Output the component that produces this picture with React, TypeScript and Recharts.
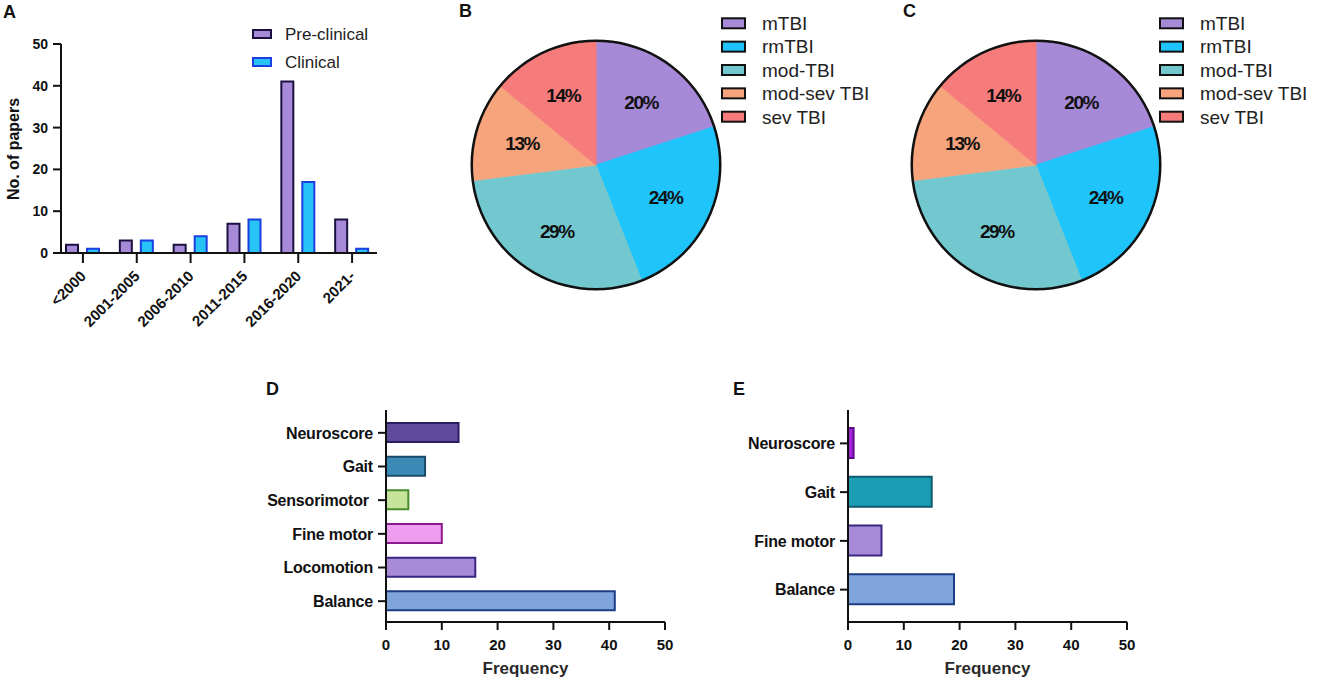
// Five-panel TBI literature summary: papers per period (A), injury severity
// share in two cohorts (B, C), and outcome-measure frequency (D, E).

import React from "react";
import { BarChart, Bar, XAxis, YAxis, Cell, PieChart, Pie } from "recharts";

// ---- Panel A: papers per period ----
const periods = ["<2000", "2001-2005", "2006-2010", "2011-2015", "2016-2020", "2021-"];
const preClinicalPapers = [2, 3, 2, 7, 41, 8];
const clinicalPapers = [1, 3, 4, 8, 17, 1];
const paperTicks = [0, 10, 20, 30, 40, 50];

// ---- Panels B and C: severity share (%) ----
const severityNames = ["mTBI", "rmTBI", "mod-TBI", "mod-sev TBI", "sev TBI"];
const severityShareB = [20, 24, 29, 13, 14];
const severityShareC = [20, 24, 29, 13, 14];
const severityColors = ["#a68ad7", "#1fc4fa", "#73c8cf", "#f7a47d", "#f67c7c"];

// ---- Panel D: outcome frequency ----
const outcomesD = ["Neuroscore", "Gait", "Sensorimotor\u00a0", "Fine motor", "Locomotion", "Balance"];
const frequencyD = [13, 7, 4, 10, 16, 41];
const fillsD = ["#5f4b9c", "#3a8bb6", "#c6e49c", "#ef9df0", "#a78bd9", "#7fa4dc"];
const edgesD = ["#2c1d62", "#1b4b6c", "#4a8c2c", "#8c1a8c", "#3a2682", "#1d3c84"];

// ---- Panel E: outcome frequency ----
const outcomesE = ["Neuroscore", "Gait", "Fine motor", "Balance"];
const frequencyE = [1, 15, 6, 19];
const fillsE = ["#a322d6", "#1b9db3", "#a78bd9", "#7fa4dc"];
const edgesE = ["#5e0a8a", "#0e5a70", "#3a2682", "#1d3c84"];

const frequencyTicks = [0, 10, 20, 30, 40, 50];

const FONT = "'Liberation Sans', Arial, Helvetica, sans-serif";
const INK = "#111111";
const PRE_FILL = "#a68ad7";
const PRE_EDGE = "#1c1040";
const CLIN_FILL = "#27c3f7";
const CLIN_EDGE = "#1b3fe0";

const axisLine = { stroke: INK, strokeWidth: 2 };
const boldTick = (size: number, spacing = 0) => ({
  fontSize: size,
  fontWeight: 700,
  fill: INK,
  letterSpacing: spacing,
});

const periodRows = periods.map((period, i) => ({
  period,
  pre: preClinicalPapers[i],
  clin: clinicalPapers[i],
}));
const pieB = severityNames.map((name, i) => ({ name, value: severityShareB[i] }));
const pieC = severityNames.map((name, i) => ({ name, value: severityShareC[i] }));
const rowsD = outcomesD.map((outcome, i) => ({ outcome, frequency: frequencyD[i] }));
const rowsE = outcomesE.map((outcome, i) => ({ outcome, frequency: frequencyE[i] }));
const outline = [{ value: 1 }];

// Rotated period labels under panel A, ending just past the tick.
function PeriodTick({ x, y, payload }: any) {
  return (
    <text
      transform={`translate(${x + 4},${y + 14}) rotate(-45)`}
      textAnchor="end"
      fontSize={15}
      fontWeight={700}
      fill={INK}
    >
      {payload.value}
    </text>
  );
}

const RAD = Math.PI / 180;
function SliceLabel(props: any) {
  const { cx, cy, midAngle, outerRadius, value } = props;
  const r = outerRadius * 0.62;
  const x = cx + r * Math.cos(-midAngle * RAD);
  const y = cy + r * Math.sin(-midAngle * RAD);
  return (
    <text
      x={x}
      y={y}
      textAnchor="middle"
      dominantBaseline="central"
      fontSize={19}
      fontWeight={700}
      letterSpacing={-1.4}
      fill={INK}
    >
      {value}%
    </text>
  );
}

function SeverityPie({ data }: { data: { name: string; value: number }[] }) {
  return (
    <PieChart width={300} height={300}>
      <Pie
        data={data}
        dataKey="value"
        nameKey="name"
        cx={161}
        cy={160}
        outerRadius={124}
        startAngle={90}
        endAngle={-270}
        label={SliceLabel}
        labelLine={false}
        isAnimationActive={false}
      >
        {data.map((d, i) => (
          <Cell key={d.name} fill={severityColors[i]} stroke={severityColors[i]} strokeWidth={1} />
        ))}
      </Pie>
      {/* thin dark ring round the whole pie */}
      <Pie
        data={outline}
        dataKey="value"
        cx={161}
        cy={160}
        innerRadius={123}
        outerRadius={125.5}
        startAngle={90}
        endAngle={-270}
        fill={INK}
        stroke="none"
        isAnimationActive={false}
      />
    </PieChart>
  );
}

function OutcomeBars({
  rows,
  fills,
  edges,
  width,
  axisWidth,
  barSize,
  pad,
}: {
  rows: { outcome: string; frequency: number }[];
  fills: string[];
  edges: string[];
  width: number;
  axisWidth: number;
  barSize: number;
  pad: { top: number; bottom: number };
}) {
  return (
    <BarChart
      layout="vertical"
      width={width}
      height={310}
      data={rows}
      margin={{ top: 30, right: 15, bottom: 0, left: 0 }}
    >
      <XAxis
        type="number"
        domain={[0, 50]}
        ticks={frequencyTicks}
        interval={0}
        height={68}
        tick={boldTick(15)}
        tickSize={8}
        tickMargin={9}
        axisLine={axisLine}
        tickLine={axisLine}
        label={{
          value: "Frequency",
          position: "insideBottom",
          offset: 16,
          fontSize: 17,
          fontWeight: 700,
          fill: "#2a2a2a",
        }}
      />
      <YAxis
        type="category"
        dataKey="outcome"
        width={axisWidth}
        padding={pad}
        interval={0}
        tick={boldTick(16, -0.2)}
        tickSize={8}
        tickMargin={5}
        axisLine={axisLine}
        tickLine={axisLine}
      />
      <Bar dataKey="frequency" barSize={barSize} strokeWidth={2} isAnimationActive={false}>
        {rows.map((r, i) => (
          <Cell key={r.outcome} fill={fills[i]} stroke={edges[i]} />
        ))}
      </Bar>
    </BarChart>
  );
}

function SwatchLegend({
  x,
  y,
  rowGap,
  w,
  h,
  gap,
  fontSize,
  items,
}: {
  x: number;
  y: number;
  rowGap: number;
  w: number;
  h: number;
  gap: number;
  fontSize: number;
  items: { label: string; fill: string; edge: string }[];
}) {
  return (
    <g>
      {items.map((it, i) => {
        const cy = y + i * rowGap;
        return (
          <g key={it.label}>
            <rect x={x + 1} y={cy - h / 2 + 1} width={w - 2} height={h - 2} fill={it.fill} stroke={it.edge} strokeWidth={2} />
            <text x={x + w + gap} y={cy + fontSize * 0.36} fontSize={fontSize} fill="#222">
              {it.label}
            </text>
          </g>
        );
      })}
    </g>
  );
}

const severityItems = severityNames.map((label, i) => ({ label, fill: severityColors[i], edge: INK }));

export default function App() {
  return (
    <div
      style={{
        position: "absolute",
        left: 0,
        top: 0,
        width: 1325,
        height: 695,
        background: "#fff",
        fontFamily: FONT,
        overflow: "hidden",
      }}
    >
      {/* A */}
      <div style={{ position: "absolute", left: 0, top: 0 }}>
        <BarChart
          width={395}
          height={340}
          data={periodRows}
          margin={{ top: 44, right: 18, bottom: 0, left: 0 }}
          barGap={9}
        >
          <XAxis
            dataKey="period"
            height={87}
            interval={0}
            padding={{ left: -5, right: -2 }}
            tick={<PeriodTick />}
            tickSize={10}
            tickMargin={0}
            axisLine={axisLine}
            tickLine={axisLine}
          />
          <YAxis
            width={61}
            domain={[0, 50]}
            ticks={paperTicks}
            interval={0}
            tick={boldTick(14)}
            tickSize={8}
            tickMargin={5}
            axisLine={axisLine}
            tickLine={axisLine}
          />
          <Bar dataKey="pre" barSize={12} fill={PRE_FILL} stroke={PRE_EDGE} strokeWidth={2} isAnimationActive={false} />
          <Bar dataKey="clin" barSize={12} fill={CLIN_FILL} stroke={CLIN_EDGE} strokeWidth={2} isAnimationActive={false} />
        </BarChart>
      </div>

      {/* B, C */}
      <div style={{ position: "absolute", left: 430, top: 0 }}>
        <SeverityPie data={pieB} />
      </div>
      <div style={{ position: "absolute", left: 870, top: 0 }}>
        <SeverityPie data={pieC} />
      </div>

      {/* D, E */}
      <div style={{ position: "absolute", left: 250, top: 380 }}>
        <OutcomeBars rows={rowsD} fills={fillsD} edges={edgesD} width={430} axisWidth={136} barSize={19} pad={{ top: 6, bottom: 4 }} />
      </div>
      <div style={{ position: "absolute", left: 740, top: 380 }}>
        <OutcomeBars rows={rowsE} fills={fillsE} edges={edgesE} width={402} axisWidth={108} barSize={30} pad={{ top: 9, bottom: 8 }} />
      </div>

      {/* panel letters, axis title and legends */}
      <svg width={1325} height={695} style={{ position: "absolute", left: 0, top: 0, pointerEvents: "none" }}>
        <g fontSize={18} fontWeight={700} fill={INK}>
          <text x={3} y={18}>A</text>
          <text x={459} y={17}>B</text>
          <text x={903} y={17}>C</text>
          <text x={266} y={395}>D</text>
          <text x={733} y={395}>E</text>
        </g>
        <text
          transform="translate(18.5,149) rotate(-90)"
          textAnchor="middle"
          fontSize={16}
          fontWeight={700}
          fill={INK}
        >
          No. of papers
        </text>
        <SwatchLegend
          x={252}
          y={34}
          rowGap={28}
          w={20}
          h={10}
          gap={13}
          fontSize={17}
          items={[
            { label: "Pre-clinical", fill: PRE_FILL, edge: PRE_EDGE },
            { label: "Clinical", fill: CLIN_FILL, edge: CLIN_EDGE },
          ]}
        />
        <SwatchLegend x={721} y={23.3} rowGap={23.35} w={25} h={12} gap={16} fontSize={19} items={severityItems} />
        <SwatchLegend x={1159} y={23.3} rowGap={23.35} w={25} h={12} gap={16} fontSize={19} items={severityItems} />
      </svg>
    </div>
  );
}
